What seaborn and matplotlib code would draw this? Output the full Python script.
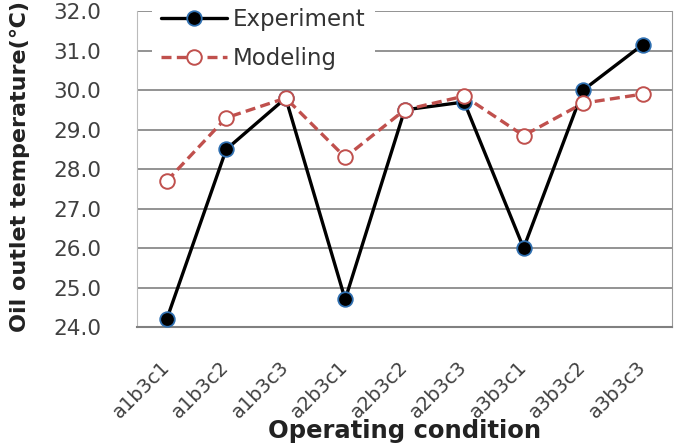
import matplotlib
matplotlib.use("Agg")
import matplotlib.pyplot as plt
import seaborn as sns
import pandas as pd
from matplotlib.ticker import MultipleLocator

conditions = ["a1b3c1", "a1b3c2", "a1b3c3", "a2b3c1", "a2b3c2",
              "a2b3c3", "a3b3c1", "a3b3c2", "a3b3c3"]
experiment = [24.2, 28.5, 29.8, 24.7, 29.5, 29.7, 26.0, 30.0, 31.15]
modeling = [27.7, 29.3, 29.8, 28.3, 29.5, 29.85, 28.85, 29.67, 29.9]

df = pd.DataFrame({"idx": range(len(conditions)), "cond": conditions,
                   "Experiment": experiment, "Modeling": modeling})

sns.set_style("white")
plt.rcParams["font.family"] = ["DejaVu Sans"]

fig = plt.figure(figsize=(6.75, 4.48), dpi=100)
ax = fig.add_axes([0.203, 0.27, 0.793, 0.705])

sns.lineplot(data=df, x="idx", y="Experiment", ax=ax, color="black", lw=2.4,
             marker="o", markersize=10.5, markerfacecolor="black",
             markeredgecolor="#2f6fb0", markeredgewidth=1.3, label="Experiment",
             zorder=3)
sns.lineplot(data=df, x="idx", y="Modeling", ax=ax, color="#c0504d", lw=2.4,
             linestyle=(0, (3, 1.6)), marker="o", markersize=10.5,
             markerfacecolor="white", markeredgecolor="#c0504d",
             markeredgewidth=1.4, label="Modeling", zorder=4)

ax.set_xlim(-0.5, len(conditions) - 0.5)
ax.set_ylim(24, 32)
ax.set_xticks(range(len(conditions)))
ax.set_xticklabels(conditions, rotation=45, ha="right", va="center",
                   rotation_mode="anchor", fontsize=14, color="#404040")
ax.yaxis.set_major_locator(MultipleLocator(1))
ax.yaxis.set_minor_locator(MultipleLocator(0.5))
ax.set_yticklabels([f"{v:.1f}" for v in ax.get_yticks()], fontsize=15.5,
                   color="#404040")
ax.grid(axis="y", which="major", color="#808080", lw=1.2)
ax.tick_params(axis="both", which="both", direction="in", colors="#999999",
               labelcolor="#404040")
ax.tick_params(axis="y", which="major", length=4, pad=26)
ax.tick_params(axis="y", which="minor", length=3)
ax.tick_params(axis="x", length=4, pad=27)
for s in ["left", "right", "top"]:
    ax.spines[s].set_color("#bbbbbb")
ax.spines["top"].set_visible(False)
ax.spines["bottom"].set_color("#808080")
ax.spines["bottom"].set_linewidth(1.5)
ax.spines["right"].set_color("#999999")

ax.set_xlabel("Operating condition", fontsize=17.5, fontweight="bold",
              color="#222222")
ax.xaxis.set_label_coords(0.5, -0.29)
ax.set_ylabel("Oil outlet temperature(℃)", fontsize=16, fontweight="bold",
              color="#222222", loc="bottom")
ax.yaxis.set_label_coords(-0.2, -0.015)

leg = ax.legend(loc="upper left", bbox_to_anchor=(0.019, 1.053), fontsize=16.5,
                frameon=True, handlelength=2.9, labelspacing=0.7,
                handletextpad=0.25, borderaxespad=0.2)
leg.get_frame().set_facecolor("white")
leg.get_frame().set_edgecolor("none")
leg.get_frame().set_alpha(1)
leg.set_zorder(5)
for t in leg.get_texts():
    t.set_color("#333333")

fig.savefig("out.png", dpi=100)
